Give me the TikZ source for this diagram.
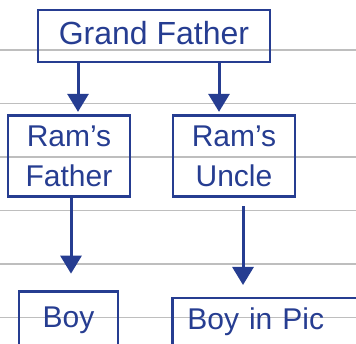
\documentclass[tikz,border=0pt]{standalone}
\usepackage{fontspec}
\setmainfont{Liberation Sans}
\usetikzlibrary{arrows.meta,positioning,calc}
\definecolor{treeblue}{RGB}{38,61,145}
\definecolor{rulegray}{RGB}{190,190,190}
\tikzset{
  famnode/.style={draw=treeblue,line width=2.7pt,text=treeblue,inner sep=0pt},
  flow/.style={draw=treeblue,line width=3pt,
    -{Triangle[width=21pt,length=18pt]}}
}

\begin{document}
\begin{tikzpicture}[x=1pt,y=-1pt]
  \useasboundingbox (0,0) rectangle (356,344);
  \clip (0,0) rectangle (356,344);
  % ruled lines behind the tree
  \foreach \y in {50,103.5,157,210.5,264,317.5}
    \draw[rulegray,line width=1.4pt] (0,\y) -- (356,\y);
  % family boxes
  \node[famnode,minimum width=232pt,text height=35pt,text depth=17pt,
    font=\fontsize{32}{37}\selectfont] (gf) at (154,36) {Grand Father};
  \node[famnode,minimum width=122pt,minimum height=81pt,align=center,
    font=\fontsize{30}{40}\selectfont] (rf) at (69,156.2) {Ram’s\\Father};
  \node[famnode,minimum width=122pt,minimum height=81pt,align=center,
    font=\fontsize{30}{40}\selectfont] (ru) at (234,156.2) {Ram’s\\Uncle};
  \node[famnode,minimum width=99pt,text height=36pt,text depth=30pt,
    font=\fontsize{30}{35}\selectfont] (boy) at (68.5,324.7) {Boy};
  \node[famnode,anchor=north west,inner xsep=15pt,text width=200pt,
    align=left,text height=31.6pt,text depth=30pt,
    font=\fontsize{30}{35}\selectfont] (pic) at (171,296.7) {Boy in Pic};
  % connectors
  \coordinate (rfin) at ([xshift=9pt]rf.north);
  \coordinate (ruin) at ([xshift=-15pt]ru.north);
  \draw[flow,shorten >=2.5pt] (gf.south -| rfin) -- (rfin);
  \draw[flow,shorten >=2.5pt] (gf.south -| ruin) -- (ruin);
  \coordinate (rfout) at ([xshift=2pt]rf.south);
  \coordinate (ruout) at ([xshift=9pt]ru.south);
  \draw[flow,shorten >=16.7pt] (rfout) -- (rfout |- boy.north);
  \draw[flow,shorten <=8pt,shorten >=11.7pt] (ruout) -- (ruout |- pic.north);
\end{tikzpicture}
\end{document}
